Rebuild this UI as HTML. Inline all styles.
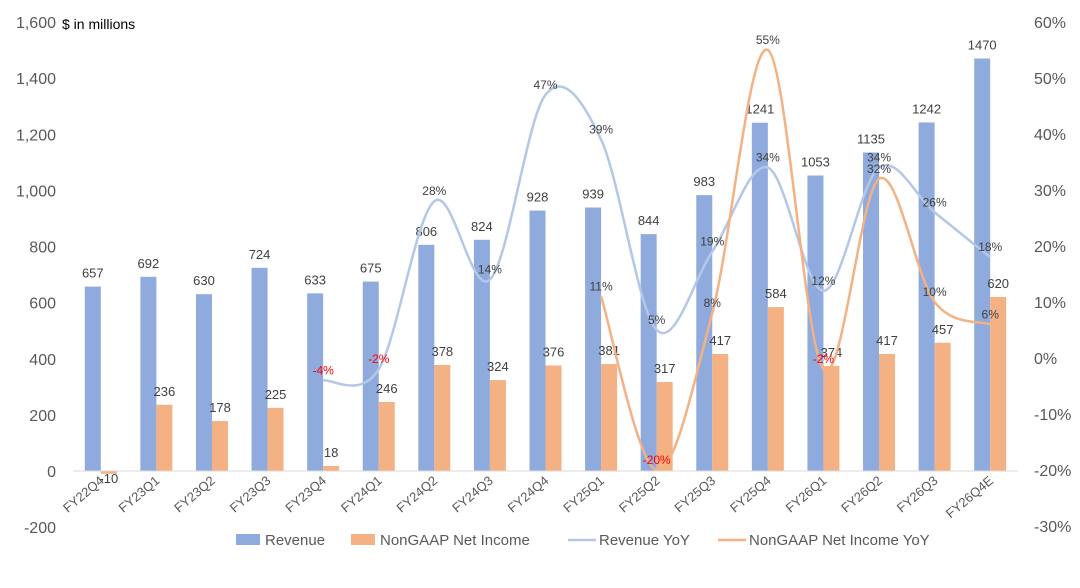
<!DOCTYPE html>
<html><head><meta charset="utf-8"><style>
body{margin:0;background:#fff;font-family:"Liberation Sans",sans-serif;}
svg text{font-family:"Liberation Sans",sans-serif;}
</style></head><body>
<svg id="chart" width="1080" height="583" xmlns="http://www.w3.org/2000/svg">
<text x="62" y="29" font-size="14" fill="#000">$ in millions</text>
<g id="yl"></g>
<g id="yr"></g>
<g id="bars"></g>
<g id="lines"></g>
<g id="xl"></g>
<g font-size="15" fill="#595959">
<rect x="236" y="534" width="24" height="11" fill="#8faadc"/>
<text x="265" y="545">Revenue</text>
<rect x="351" y="534" width="24" height="11" fill="#f4b183"/>
<text x="380" y="545">NonGAAP Net Income</text>
<line x1="568" y1="540" x2="596" y2="540" stroke="#b4c7e7" stroke-width="2.5"/>
<text x="599" y="545">Revenue YoY</text>
<line x1="718" y1="540" x2="746" y2="540" stroke="#f4b183" stroke-width="2.5"/>
<text x="749" y="545">NonGAAP Net Income YoY</text>
</g>
</svg>
<script>
const categories=["FY22Q4","FY23Q1","FY23Q2","FY23Q3","FY23Q4","FY24Q1","FY24Q2","FY24Q3","FY24Q4","FY25Q1","FY25Q2","FY25Q3","FY25Q4","FY26Q1","FY26Q2","FY26Q3","FY26Q4E"];
const revenue=[657,692,630,724,633,675,806,824,928,939,844,983,1241,1053,1135,1242,1470];
const income=[-10,236,178,225,18,246,378,324,376,381,317,417,584,374,417,457,620];
const revenueYoY=[null,null,null,null,-4,-2,28,14,47,39,5,19,34,12,34,26,18];
const incomeYoY=[null,null,null,null,null,null,null,null,null,11,-20,8,55,-2,32,10,6];
const leftTicks=[-200,0,200,400,600,800,1000,1200,1400,1600];
const rightTicks=[-30,-20,-10,0,10,20,30,40,50,60];
const NS="http://www.w3.org/2000/svg";
const x0=73,x1=1018,step=(x1-x0)/categories.length;
const yL=v=>471-v*(449/1600);
const yR=v=>358-v*(336/60);
const cx=i=>x0+step*(i+0.5);
function mk(t,a,p){const e=document.createElementNS(NS,t);for(const k in a)e.setAttribute(k,a[k]);p.appendChild(e);return e;}
const fmt=v=>v.toLocaleString("en-US");
const gyl=document.getElementById("yl"),gyr=document.getElementById("yr"),gb=document.getElementById("bars"),gln=document.getElementById("lines"),gx=document.getElementById("xl");
leftTicks.forEach(v=>{const t=mk("text",{x:56,y:yL(v)+6,"text-anchor":"end","font-size":16,fill:"#595959"},gyl);t.textContent=fmt(v);

});
rightTicks.forEach(v=>{const t=mk("text",{x:1034,y:yR(v)+6,"font-size":16,fill:"#595959"},gyr);t.textContent=v+"%";

});
categories.forEach((c,i)=>{
 const r=mk("rect",{x:cx(i)-16,y:Math.min(yL(revenue[i]),yL(0)),width:16,height:Math.abs(yL(revenue[i])-yL(0)),fill:"#8faadc"},gb);
 
 
 const b=mk("rect",{x:cx(i),y:Math.min(yL(income[i]),yL(0)),width:16,height:Math.abs(yL(income[i])-yL(0)),fill:"#f4b183"},gb);
 
 
 const t1=mk("text",{x:cx(i)-8,y:yL(revenue[i])-9,"text-anchor":"middle","font-size":13,fill:"#404040"},gb);t1.textContent=revenue[i];
 
 
 const t2=mk("text",{x:cx(i)+8,y:(income[i]<0?yL(0)+12:yL(income[i])-9),"text-anchor":"middle","font-size":13,fill:"#404040"},gb);t2.textContent=income[i];
 
 
 const xt=mk("text",{x:0,y:0,"text-anchor":"end","font-size":13,fill:"#595959",transform:`translate(${cx(i)+4},${482}) rotate(-40)`},gx);xt.textContent=c;
 
 
});
const ax=mk("line",{x1:x0,x2:x1,y1:yL(0),y2:yL(0),stroke:"#d9d9d9","stroke-width":1},gx);


function smooth(pts){let d=`M${pts[0][0]},${pts[0][1]}`;for(let i=0;i<pts.length-1;i++){const p0=pts[i-1]||pts[i],p1=pts[i],p2=pts[i+1],p3=pts[i+2]||p2;const t=1/6;d+=` C${p1[0]+(p2[0]-p0[0])*t},${p1[1]+(p2[1]-p0[1])*t} ${p2[0]-(p3[0]-p1[0])*t},${p2[1]-(p3[1]-p1[1])*t} ${p2[0]},${p2[1]}`;}return d;}
function series(arr,color,name){
 const pts=[];arr.forEach((v,i)=>{if(v!==null)pts.push([cx(i),yR(v),v]);});
 const p=mk("path",{d:smooth(pts),fill:"none",stroke:color,"stroke-width":2.5},gln);
 
 
 pts.forEach(q=>{const t=mk("text",{x:q[0],y:q[1]-6,"text-anchor":"middle","font-size":12,fill:q[2]<0?"#ff0000":"#404040"},gln);t.textContent=q[2]+"%";
 
 });
}
series(revenueYoY,"#b4c7e7","revenue-yoy");
series(incomeYoY,"#f4b183","income-yoy");
</script>
</body></html>
